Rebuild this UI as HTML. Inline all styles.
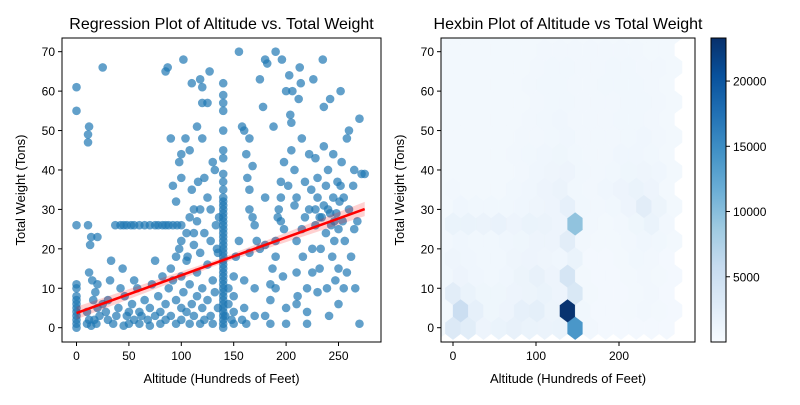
<!DOCTYPE html>
<html><head><meta charset="utf-8"><style>
body{margin:0;background:#fff;}
svg text{font-family:"Liberation Sans","DejaVu Sans",sans-serif;fill:#000;}
</style></head><body>
<svg id="fig" width="800" height="400" xmlns="http://www.w3.org/2000/svg"></svg>
<script>
// ---- data ----
const scatterX = [0,0,0,0,0,0,0,0,0,0,0,0,0,0,10,12,10,14,11,11,11,12,13,14,12,15,16,18,20,22,17,19,20,25,20,25,28,30,30,32,33,35,38,40,42,44,45,46,48,50,50,53,55,55,58,60,60,62,65,68,70,70,72,75,75,78,80,80,82,85,85,88,90,90,92,95,95,98,100,100,100,102,105,105,108,108,110,112,112,115,115,118,118,120,120,122,122,125,125,128,128,130,130,132,134,135,136,142,145,145,148,150,150,150,150,152,
37,42,45,48,52,55,60,65,70,75,78,82,85,88,92,96,100,
140,140,140,140,140,140,140,140,140,140,140,140,140,140,140,140,140,140,140,140,140,140,140,140,140,140,140,140,140,140,140,140,140,140,140,140,140,140,140,140,140,140,140,140,
85,87,90,92,95,98,100,100,102,104,105,106,108,110,110,112,115,116,118,120,120,122,125,125,127,130,132,133,135,120,95,100,108,112,118,115,128,
155,155,158,160,162,163,165,165,165,168,170,170,170,160,160,158,162,165,168,172,175,175,178,180,180,180,182,180,185,185,185,187,188,190,190,190,190,192,193,195,195,196,195,198,200,200,200,198,197,
202,203,204,205,205,206,208,208,210,210,210,210,211,212,213,214,215,215,216,218,218,220,220,220,222,222,224,225,225,226,228,228,230,230,230,232,233,234,235,236,236,238,238,239,240,240,241,242,243,244,245,245,246,247,248,249,250,250,250,252,252,253,254,255,256,258,258,260,260,262,264,265,266,268,270,270,272,275,265,255,232,236,242,246,228,251];
const scatterY = [0,1,2,3,4,5,6,7,8,10,11,26,55,61,1,2,4,0.5,26,47,49,51,21,23,14,12,7,9,5,3,2,1,11,66,23,6,4,2,7,12,17,1,3,5,10,15,0.5,8,3,4,1,6,2,12,10,1,4,3,7,2,5,0.5,11,3,17,8,1,4,13,6,2,10,3,15,12,1,7,20,5,2,13,9,4,17,1,11,6,3,21,8,14,1,19,5,10,2,24,7,16,3,30,12,1,9,20,5,28,3,6,10,2,1,4,8,13,18,
26,26,26,26,26,26,26,26,26,26,26,26,26,26,26,26,26,
0,1,2,3,4,5,6,7,8,9,10,11,12,13,14,15,16,17,18,19,20,21,22,23,24,25,26,27,28,29,30,31,32,33,35,37,39,43,45,50,55,57,59,62,
65,66,48,36,32,42,44,38,68,48,24,18,45,35,62,30,51,37,63,57,61,38,33,57,65,42,40,26,19,48,18,22,28,24,30,27,22,
70,22,51,50,44,38,35,19,30,28,26,10,3,12,5,2,1,48,41,22,20,63,56,21,33,68,67,3,1,7,11,15,51,70,10,18,22,28,30,33,37,68,27,42,60,5,1,25,13,
36,64,54,52,45,60,40,31,33,22,14,6,8,58,66,62,48,25,18,37,28,10,4,1,30,44,35,14,20,63,43,26,38,33,9,15,20,28,68,56,46,36,24,10,30,40,3,58,26,18,44,33,22,12,29,37,25,15,6,60,36,42,27,33,22,14,48,30,50,18,36,25,10,27,1,53,39,39,40,10,28,31,29,27,30,32];
// fitted regression (intercept, slope) and CI half-widths at ends/centre
const regIntercept = 3.7;
const regSlope = 0.096;
const regRange = [0, 275];
const regCI = [1.6, 0.7, 1.8];
// hexbin counts (rows bottom->top; even rows x = col*18.4, odd rows x = 9.2 + col*18.4; cols -1..14)
const hexCounts = [
 [600,3200,2600,1200,1500,1800,1500,1400,1500,14000,700,500,500,500,500,500],
 [600,5200,2000,1000,1200,2000,2200,1300,23000,800,500,500,600,700,600,500],
 [700,2500,1500,1000,1000,1200,1300,1500,1200,3500,600,500,500,600,700,500],
 [800,1200,900,800,900,1300,1800,1200,4000,600,500,500,600,700,600,500],
 [800,1100,900,800,800,1100,1200,1100,900,1500,500,500,600,800,700,500],
 [700,900,800,800,900,1000,1200,1200,2500,700,600,600,700,900,800,600],
 [700,1500,1500,1400,1600,1200,1500,1400,1200,9500,700,600,700,1000,1500,700],
 [600,900,800,800,800,900,1100,1200,2000,800,700,800,1200,2500,1300,600],
 [600,700,600,600,600,800,900,1200,1400,800,700,900,1200,1500,1200,600],
 [600,600,600,600,600,700,900,1100,1200,800,700,800,1000,1100,900,600],
 [600,600,600,600,600,700,800,900,1000,800,700,700,900,900,800,600],
 [600,600,600,600,600,700,700,800,900,700,700,700,800,900,700,600],
 [600,600,600,600,600,600,700,800,900,700,700,700,800,800,700,600],
 [600,600,600,600,600,600,700,800,800,700,700,700,800,800,700,600],
 [600,600,600,600,600,600,700,800,800,700,700,800,800,800,700,600],
 [600,600,600,600,600,600,700,800,800,700,700,800,800,700,700,600],
 [600,600,600,600,600,600,600,700,700,700,700,700,700,700,600,600],
 [600,600,600,600,600,600,600,600,600,600,600,600,600,600,600,600],
 [600,600,600,600,600,600,600,600,600,600,600,600,600,600,600,600]];
const xTicks = [0,50,100,150,200,250];
const yTicks = [0,10,20,30,40,50,60,70];
const xTicksHex = [0,100,200];
const cbTicks = [5000,10000,15000,20000];

const NS="http://www.w3.org/2000/svg";
const svg=document.getElementById('fig');
function mk(tag,attrs,parent){const e=document.createElementNS(NS,tag);for(const k in attrs)e.setAttribute(k,attrs[k]);(parent||svg).appendChild(e);return e;}
function txt(s,attrs,parent){const e=mk('text',attrs,parent);e.textContent=s;return e;}

const L={x0:62,x1:381,y0:38,y1:342};
const sxL=v=>76.5+v*1.048;
const sy=v=>327.7-v*3.943;
const R={x0:441,x1:695,y0:38,y1:342};
const sxR=v=>453+v*0.83;
const CB={x0:711,x1:726,y0:38,y1:342,max:23300};
const scb=v=>CB.y1-v/CB.max*(CB.y1-CB.y0);

const defs=mk('defs',{});
const c1=mk('clipPath',{id:'clipL'},defs);mk('rect',{x:L.x0,y:L.y0,width:L.x1-L.x0,height:L.y1-L.y0},c1);
const c2=mk('clipPath',{id:'clipR'},defs);mk('rect',{x:R.x0,y:R.y0,width:R.x1-R.x0,height:R.y1-R.y0},c2);

// ---- left: regression plot ----
const gL=mk('g',{'clip-path':'url(#clipL)'});


for(let i=0;i<scatterX.length;i++){
  const c=mk('circle',{cx:sxL(scatterX[i]),cy:sy(scatterY[i]),r:4.3,fill:'#1f77b4','fill-opacity':0.7},gL);
  
  
}
const fy=x=>regIntercept+regSlope*x;
const xa=regRange[0],xb=regRange[1],xm=(xa+xb)/2;
const band=mk('polygon',{points:[[sxL(xa),sy(fy(xa)+regCI[0])],[sxL(xm),sy(fy(xm)+regCI[1])],[sxL(xb),sy(fy(xb)+regCI[2])],[sxL(xb),sy(fy(xb)-regCI[2])],[sxL(xm),sy(fy(xm)-regCI[1])],[sxL(xa),sy(fy(xa)-regCI[0])]].map(p=>p.join(',')).join(' '),fill:'#ff0000','fill-opacity':0.18},gL);


const rl=mk('line',{x1:sxL(xa),y1:sy(fy(xa)),x2:sxL(xb),y2:sy(fy(xb)),stroke:'#ff0000','stroke-width':2.5},gL);


const fL=mk('rect',{x:L.x0,y:L.y0,width:L.x1-L.x0,height:L.y1-L.y0,fill:'none',stroke:'#000','stroke-width':1});


xTicks.forEach(t=>{mk('line',{x1:sxL(t),x2:sxL(t),y1:L.y1,y2:L.y1+4,stroke:'#000'});
  const e=txt(t,{x:sxL(t),y:L.y1+18,'font-size':12,'text-anchor':'middle'});
  
  });
yTicks.forEach(t=>{mk('line',{x1:L.x0-4,x2:L.x0,y1:sy(t),y2:sy(t),stroke:'#000'});
  const e=txt(t,{x:L.x0-7,y:sy(t)+4.5,'font-size':12,'text-anchor':'end'});
  
  });
let e;
e=txt('Regression Plot of Altitude vs. Total Weight',{x:221.5,y:29,'font-size':16,'text-anchor':'middle'});

e=txt('Altitude (Hundreds of Feet)',{x:221.5,y:383,'font-size':13,'text-anchor':'middle'});

e=txt('Total Weight (Tons)',{x:0,y:0,'font-size':13,'text-anchor':'middle',transform:'translate(25,190) rotate(-90)'});


// ---- right: hexbin ----
const stops=['#f7fbff','#deebf7','#c6dbef','#9ecae1','#6baed6','#4292c6','#2171b5','#08519c','#08306b'];
function hex2rgb(h){return [1,3,5].map(i=>parseInt(h.substr(i,2),16));}
function blues(v){let t=Math.max(0,Math.min(1,v/CB.max))*8;const i=Math.min(7,Math.floor(t)),f=t-i;
  const a=hex2rgb(stops[i]),b=hex2rgb(stops[i+1]);return 'rgb('+a.map((c,k)=>Math.round(c+(b[k]-c)*f)).join(',')+')';}
const gR=mk('g',{'clip-path':'url(#clipR)'});


const hw=15.3/2, hh=11.6, rowDy=4.41;
hexCounts.forEach((row,r)=>{row.forEach((v,ci)=>{
  const col=ci-1;const xd=(r%2?9.2:0)+col*18.4;const yd=r*rowDy-0.1;
  const cx=sxR(xd),cy=sy(yd);
  const pts=[[cx,cy-hh],[cx+hw,cy-hh/2],[cx+hw,cy+hh/2],[cx,cy+hh],[cx-hw,cy+hh/2],[cx-hw,cy-hh/2]].map(p=>p.join(',')).join(' ');
  const h=mk('polygon',{points:pts,fill:blues(v),stroke:blues(v),'stroke-width':0.3},gR);
  
  
});});
const fR=mk('rect',{x:R.x0,y:R.y0,width:R.x1-R.x0,height:R.y1-R.y0,fill:'none',stroke:'#000'});


xTicksHex.forEach(t=>{mk('line',{x1:sxR(t),x2:sxR(t),y1:R.y1,y2:R.y1+4,stroke:'#000'});
  const e=txt(t,{x:sxR(t),y:R.y1+18,'font-size':12,'text-anchor':'middle'});
  
  });
yTicks.forEach(t=>{mk('line',{x1:R.x0-4,x2:R.x0,y1:sy(t),y2:sy(t),stroke:'#000'});
  const e=txt(t,{x:R.x0-7,y:sy(t)+4.5,'font-size':12,'text-anchor':'end'});
  
  });
e=txt('Hexbin Plot of Altitude vs Total Weight',{x:568,y:29,'font-size':16,'text-anchor':'middle'});

e=txt('Altitude (Hundreds of Feet)',{x:568,y:383,'font-size':13,'text-anchor':'middle'});

e=txt('Total Weight (Tons)',{x:0,y:0,'font-size':13,'text-anchor':'middle',transform:'translate(404,190) rotate(-90)'});


// colorbar
const grad=mk('linearGradient',{id:'cbg',x1:0,y1:1,x2:0,y2:0},defs);
stops.forEach((s,i)=>mk('stop',{offset:i/8,'stop-color':s},grad));
const cb=mk('rect',{x:CB.x0,y:CB.y0,width:CB.x1-CB.x0,height:CB.y1-CB.y0,fill:'url(#cbg)',stroke:'#000'});


cbTicks.forEach(t=>{mk('line',{x1:CB.x1,x2:CB.x1+4,y1:scb(t),y2:scb(t),stroke:'#000'});
  const e=txt(t,{x:CB.x1+7,y:scb(t)+4.5,'font-size':12});
  
  });
</script>
</body></html>
